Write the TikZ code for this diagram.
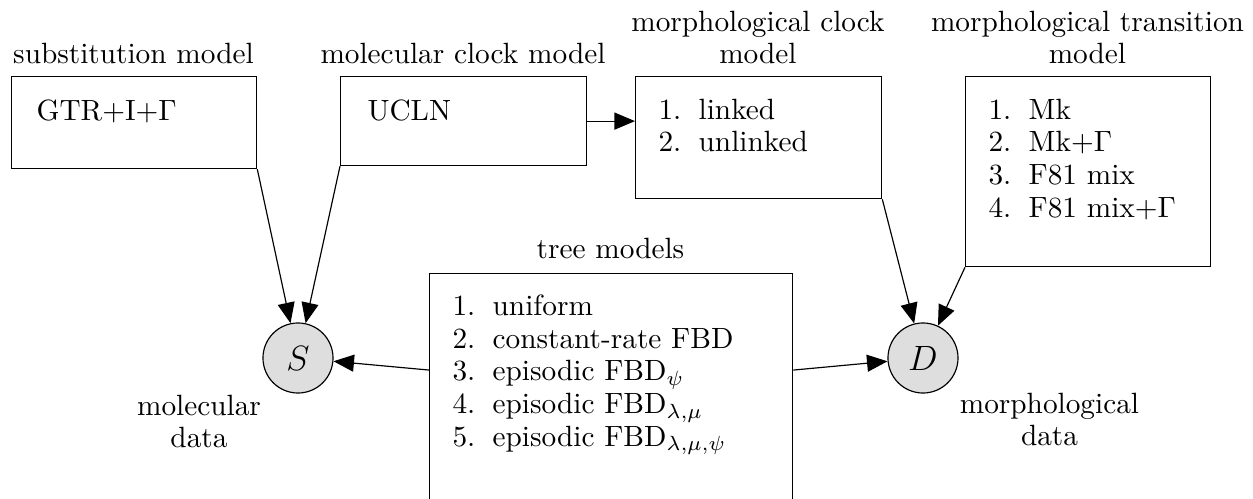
\documentclass[tikz,border=0pt]{standalone}
\usepackage{amsmath, amssymb}
\usepackage{tikz}
\usetikzlibrary{arrows.meta,positioning,calc}

\newcommand{\modellist}[1]{{\renewcommand{\arraystretch}{0.93}\begin{tabular}[t]{@{}r@{\hspace{5.9pt}}l@{}}#1\end{tabular}}}
\newcommand{\toplines}[1]{{\renewcommand{\arraystretch}{0.91}\begin{tabular}[b]{@{}c@{}}#1\end{tabular}}}
\newcommand{\lowlines}[1]{{\renewcommand{\arraystretch}{0.93}\begin{tabular}[t]{@{}c@{}}#1\end{tabular}}}

\tikzset{
    modelbox/.style={draw, rectangle, anchor=north west, inner sep=0pt},
    boxtext/.style={anchor=base west, inner sep=0pt},
    boxlabel/.style={anchor=base, inner sep=0pt},
    datanode/.style={draw, circle, fill=black!13, minimum size=0.84cm, inner sep=0pt, font=\large},
    arr/.style={-{Triangle[length=7pt, width=5.8pt]}}
}

\begin{document}
\begin{tikzpicture}[x=0.012cm, y=-0.012cm]
        \useasboundingbox (0, 0) rectangle (1253, 499);
        % model boxes
        \node[modelbox, minimum width=2.94cm, minimum height=1.104cm] (subst) at (11, 76) {};
        \node[modelbox, minimum width=2.952cm, minimum height=1.068cm] (ucln) at (340, 76) {};
        \node[modelbox, minimum width=2.952cm, minimum height=1.464cm] (mclock) at (635, 76) {};
        \node[modelbox, minimum width=2.94cm, minimum height=2.28cm] (mtrans) at (965, 76) {};
        \node[modelbox, minimum width=4.356cm, minimum height=2.784cm] (tree) at (429, 273) {};
        % box contents
        \node[boxtext] (subst-txt) at (36, 120) {GTR+I+$\Gamma$};
        \node[boxtext] (ucln-txt) at (367, 120) {UCLN};
        \node[boxtext] (mclock-txt) at (658, 119) {\modellist{1. & linked\\ 2. & unlinked}};
        \node[boxtext] (mtrans-txt) at (988, 119) {\modellist{1. & Mk\\ 2. & Mk+$\Gamma$\\ 3. & F81 mix\\ 4. & F81 mix+$\Gamma$}};
        \node[boxtext] (tree-txt) at (452, 315.5) {\modellist{1. & uniform\\ 2. & constant-rate FBD\\ 3. & episodic FBD$_{\psi}$\\ 4. & episodic FBD$_{\lambda,\mu}$\\ 5. & episodic FBD$_{\lambda,\mu,\psi}$}};
        % labels
        \node[boxlabel] (subst-lbl) at (133.5, 63) {substitution model};
        \node[boxlabel] (ucln-lbl) at (463, 63) {molecular clock model};
        \node[boxlabel] (mclock-lbl) at (758, 63) {\toplines{morphological clock\\ model}};
        \node[boxlabel] (mtrans-lbl) at (1087.5, 63) {\toplines{morphological transition\\ model}};
        \node[boxlabel] (tree-lbl) at (610.5, 258) {tree models};
        % data
        \node[datanode] (S) at (298, 358) {$S$};
        \node[datanode] (D) at (923, 358) {$D$};
        \node[boxlabel] (S-lbl) at (199, 415) {\lowlines{molecular\\ data}};
        \node[boxlabel] (D-lbl) at (1049.5, 413) {\lowlines{morphological\\ data}};
        % edges
        \coordinate (tree-w) at ([yshift=-1.164cm]tree.north west);
        \coordinate (tree-e) at ([yshift=-1.164cm]tree.north east);
        \draw[arr] (subst.south east) -- (S);
        \draw[arr] (ucln.south west) -- (S);
        \draw[arr] (tree-w) -- (S);
        \draw[arr] (tree-e) -- (D);
        \draw[arr] (mclock.south east) -- (D);
        \draw[arr] (mtrans.south west) -- (D);
        \draw[arr] (ucln.east) -- (ucln.east -| mclock.west);
    \end{tikzpicture}
\end{document}
